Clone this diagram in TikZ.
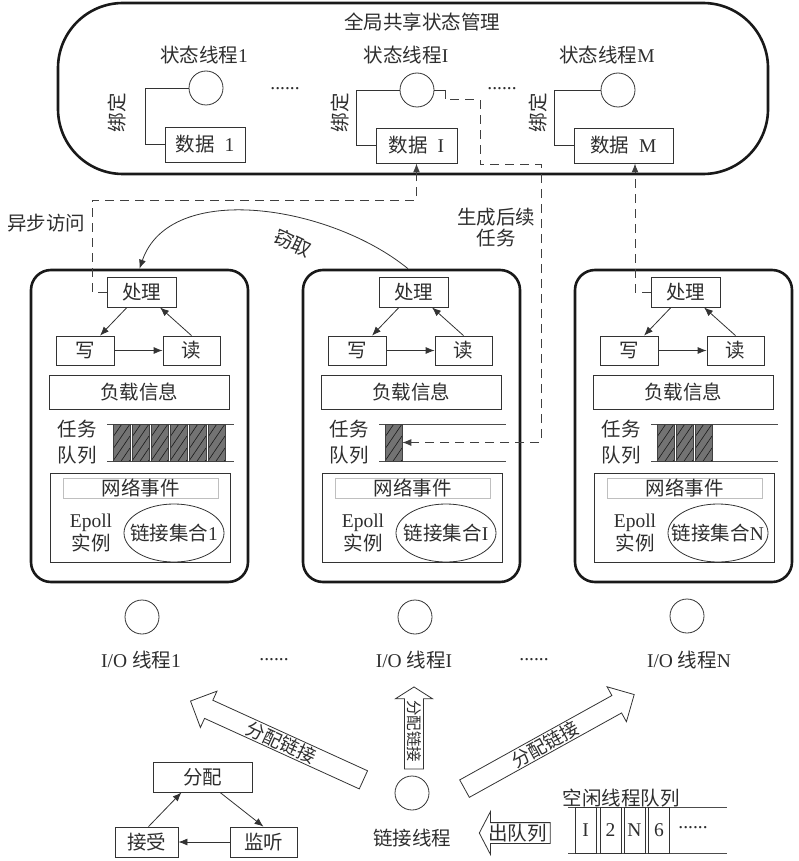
\documentclass[tikz,border=0pt]{standalone}
\usepackage{fontspec}
\setmainfont{Liberation Serif}
\newfontfamily\cjk{Noto Sans CJK SC}
\newcommand\zh[1]{{\cjk #1}}
\usetikzlibrary{shapes.geometric,shapes.arrows,arrows.meta,calc}
\tikzset{
  base/.style={font=\fontsize{19.5}{21}\selectfont, text=black!82},
  bx/.style={base, draw=black!80, line width=0.8pt, inner sep=0pt, rectangle},
  outerbox/.style={draw=black!90, line width=2.6pt, rounded corners=20pt, inner sep=0pt, rectangle},
  cir/.style={circle, draw=black!80, line width=0.8pt, minimum size=34pt, inner sep=0pt},
  conn/.style={draw=black!80, line width=0.8pt},
  tipa/.style={-{Latex[length=9pt,width=7pt]}},
  arr/.style={conn, tipa},
  dline/.style={draw=black!75, line width=1pt, dash pattern=on 9pt off 6pt},
  qline/.style={draw=black!70, line width=0.8pt},
  cell/.style={draw=black!75, fill=black!55, line width=0.6pt, minimum width=17pt, minimum height=37pt, inner sep=0pt,
    path picture={\foreach \hh in {-24,-12,0,12,24,36}{\draw[black!90, line width=0.6pt] ([yshift=\hh pt]path picture bounding box.south west) -- ++(17pt,25pt);}}},
  qcell/.style={base, draw=black!80, line width=0.8pt, minimum width=21pt, minimum height=46pt, inner sep=0pt},
  blk/.style={base, single arrow, draw=black!80, line width=0.8pt, fill=white, inner xsep=2pt, inner ysep=1pt, single arrow head extend=10pt},
  dots/.style={base, inner sep=0pt},
  linkset/.style={base, ellipse, draw=black!80, line width=0.8pt, minimum width=100pt, minimum height=58pt, inner sep=0pt}
}
\begin{document}
\begin{tikzpicture}[x=1pt,y=-1pt]
\useasboundingbox (0,0) rectangle (799,861);

% ---------- global shared state ----------
\node[outerbox, rounded corners=65pt, minimum width=710pt, minimum height=171pt] (gs) at (413,88.5) {};
\node[base] (title) at (422,22) {\zh{全局共享状态管理}};

\node[base] (ls1) at (204,55) {\zh{状态线程}1};
\node[base] (lsI) at (406,55) {\zh{状态线程}I};
\node[base] (lsM) at (607,55) {\zh{状态线程}M};

\node[cir] (s1) at (206,88) {};
\node[cir] (sI) at (417,90) {};
\node[cir] (sM) at (618,90) {};

\node[bx, minimum width=80pt, minimum height=35pt] (d1) at (205,144.5) {\zh{数据}\ \ 1};
\node[bx, minimum width=81pt, minimum height=35pt] (dI) at (416.5,145.5) {\zh{数据}\ \ I};
\node[bx, minimum width=99pt, minimum height=35pt] (dM) at (623.5,145.5) {\zh{数据}\ \ M};

\draw[conn] (s1.west) -- ++(-43,0) |- (d1.west);
\draw[conn] (sI.west) -- ++(-43,0) |- (dI.west);
\draw[conn] (sM.west) -- ++(-46,0) |- (dM.west);

\node[base, rotate=90] (b1) at (117,113) {\zh{绑定}};
\node[base, rotate=90] (bI) at (340,113) {\zh{绑定}};
\node[base, rotate=90] (bM) at (538,113) {\zh{绑定}};

\node[dots] (dt1) at (285,89) {......};
\node[dots] (dt2) at (502,89) {......};

% ---------- I/O thread boxes ----------
\foreach \o/\n/\k/\lbl in {0/a/6/1,272/b/1/I,544/c/3/N}{
  \node[outerbox, minimum width=217pt, minimum height=312pt] (fr\n) at (139.5+\o,426) {};
  \node[bx, minimum width=69pt, minimum height=30pt] (p\n) at (141.5+\o,292) {\zh{处理}};
  \node[bx, minimum width=58pt, minimum height=29pt] (w\n) at (85+\o,350.5) {\zh{写}};
  \node[bx, minimum width=57pt, minimum height=29pt] (r\n) at (191.5+\o,350.5) {\zh{读}};
  \draw[arr] ([xshift=-14.5pt]p\n.south) -- ([xshift=15pt]w\n.north);
  \draw[arr] (r\n.north) -- ([xshift=18.5pt]p\n.south);
  \draw[arr] (w\n.east) -- (r\n.west);
  \node[bx, minimum width=180pt, minimum height=34pt] (ld\n) at (139+\o,392) {\zh{负载信息}};
  \node[base] (rw\n) at (77+\o,429) {\zh{任务}};
  \node[base] (dl\n) at (77+\o,455) {\zh{队列}};
  \draw[qline] (107+\o,424) -- (234+\o,424);
  \draw[qline] (107+\o,461) -- (234+\o,461);
  \foreach \i in {1,...,\k}{
    \node[cell] (c\n\i) at (121.5+\o+19*\i-19,442.5) {};
  }
  \node[bx, minimum width=180pt, minimum height=89pt] (ne\n) at (140+\o,517.5) {};
  \node[bx, draw=black!25, minimum width=155pt, minimum height=20pt] (nt\n) at (140.5+\o,488) {\zh{网络事件}};
  \node[base, inner sep=0pt] (ep\n) at (91+\o,523) {Epoll};
  \node[base, inner sep=0pt] (sl\n) at (91+\o,543) {\zh{实例}};
  \node[linkset] (el\n) at (174+\o,533) {\makebox[60pt][c]{\zh{链接集合}\lbl}};
}

% ---------- dashed links ----------
\draw[dline, tipa] (pa.west) -| (92,200) -| (dI.south);
\draw[dline, tipa] (pc.west) -| ([xshift=11.5pt]dM.south);
\draw[conn] (sI.east) -- ++(11,0) coordinate (g0);
\draw[dline, tipa] (g0) |- (480,100) |- (541,165) |- (cb1.east);

\node[base] (async) at (46,223) {\zh{异步访问}};
\node[base, align=center] (gen) at (496,228) {\zh{生成后续}\\\zh{任务}};

% steal
\draw[arr] ([xshift=-3.5pt]frb.north) .. controls (330,205) and (170,180) .. (fra.north);
\node[base, rotate=-25] (steal) at (293,243) {\zh{窃取}};

% ---------- I/O threads ----------
\node[cir] (io1) at (142,617) {};
\node[cir] (ioI) at (415,617) {};
\node[cir] (ioN) at (687,616) {};
\node[base] (lio1) at (141,660) {I/O \zh{线程}1};
\node[base] (lioI) at (414,660) {I/O \zh{线程}I};
\node[base] (lioN) at (689,660) {I/O \zh{线程}N};
\node[dots] (dt3) at (274,660) {......};
\node[dots] (dt4) at (534,660) {......};

% ---------- connection thread ----------
\node[cir] (cl) at (412,793) {};
\node[base] (lcl) at (412,838) {\zh{链接线程}};

\node[blk, font=\fontsize{18.5}{20}\selectfont, rotate=-24.5, shape border rotate=180, minimum height=190pt] (al) at (281.5,742.5) {\zh{分配链接}};
\node[blk, font=\fontsize{18.5}{20}\selectfont, rotate=29, minimum height=194pt] (ar) at (545,744) {\zh{分配链接}};
\node[blk, font=\fontsize{15.5}{17}\selectfont, inner ysep=2pt, rotate=-90, shape border rotate=180, minimum height=82pt, single arrow tip angle=115, single arrow head extend=9pt] (av) at (414,731) {\zh{分配链接}};

% accept / dispatch / listen
\node[bx, minimum width=99pt, minimum height=30pt] (fp) at (202.5,777) {\zh{分配}};
\node[bx, minimum width=63pt, minimum height=30pt] (js) at (146.5,842) {\zh{接受}};
\node[bx, minimum width=67pt, minimum height=30pt] (jt) at (263.5,842) {\zh{监听}};
\draw[arr] ([xshift=2pt]js.north) -- ([xshift=-21pt]fp.south);
\draw[arr] ([xshift=17.5pt]fp.south) -- (jt.north);
\draw[arr] (jt.west) -- (js.east);

% idle queue
\node[base] (lq) at (621,798) {\zh{空闲线程队列}};
\draw[qline] (568,807) -- (727,807);
\draw[qline] (568,853) -- (727,853);
\node[qcell] (q1) at (585.5,830) {I};
\node[qcell] (q2) at (610.5,830) {2};
\node[qcell] (q3) at (634.5,830) {N};
\node[qcell] (q4) at (659,830) {6};
\node[dots] (dt5) at (693,828) {......};

\node[blk, shape border rotate=180, minimum height=71pt, single arrow tip angle=125, single arrow head extend=11pt] (aq) at (517.5,833) {\zh{出队列}};
\end{tikzpicture}
\end{document}
